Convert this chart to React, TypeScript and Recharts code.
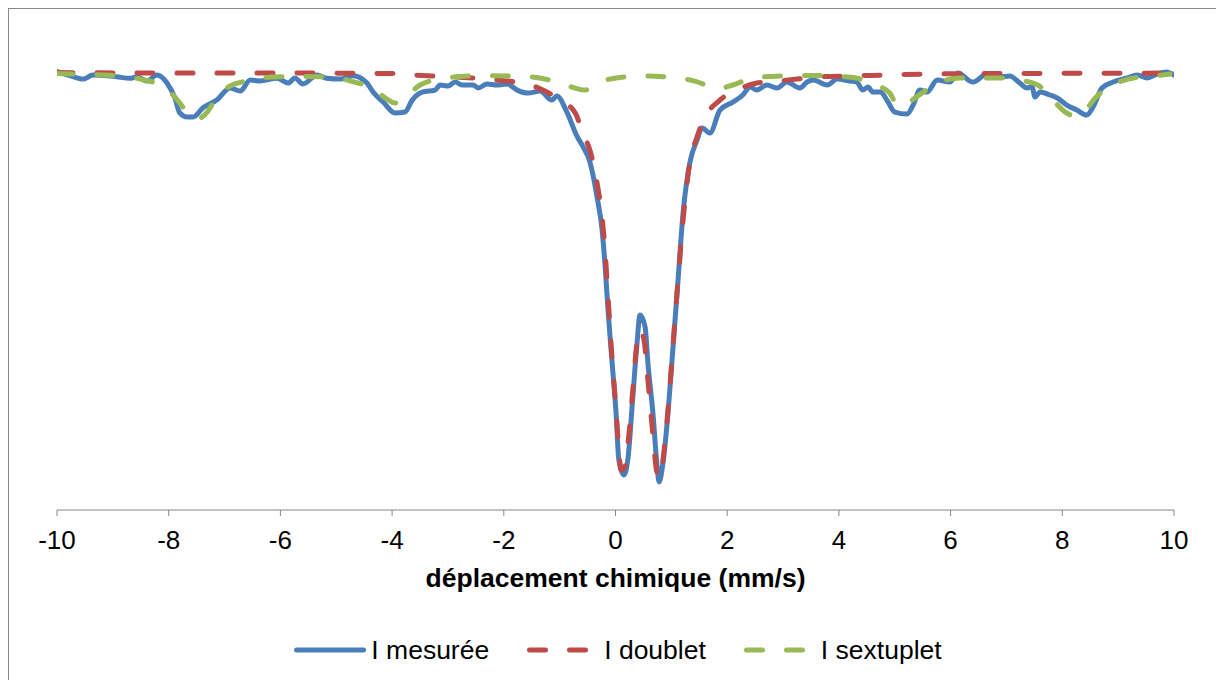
import React from 'react';
import { LineChart, Line, XAxis, YAxis, Legend } from 'recharts';

const FONT = '"Liberation Sans", Arial, Helvetica, sans-serif';

// x axis ticks (mm/s)
const xTicks = [-10, -8, -6, -4, -2, 0, 2, 4, 6, 8, 10];

// I mesurée
const measuredV = [
  -10.0, -9.77, -9.53, -9.36, -9.1, -8.93, -8.69, -8.57, -8.39, -8.21, -8.03, -7.89, -7.8, -7.67, -7.56,
  -7.39, -7.14, -6.9, -6.72, -6.54, -6.37, -6.06, -5.86, -5.74, -5.6, -5.34, -5.17, -4.93, -4.7, -4.45,
  -4.34, -4.16, -3.95, -3.77, -3.64, -3.46, -3.23, -3.14, -3.0, -2.87, -2.75, -2.55, -2.46, -2.3, -2.12,
  -1.94, -1.76, -1.57, -1.35, -1.14, -1.05, -0.87, -0.69, -0.58, -0.46, -0.33, -0.24, -0.19, -0.13, -0.06,
  0.01, 0.06, 0.15, 0.22, 0.31, 0.38, 0.44, 0.53, 0.58, 0.67, 0.74, 0.78, 0.85, 0.94, 1.03,
  1.12, 1.21, 1.33, 1.46, 1.55, 1.69, 1.87, 2.1, 2.28, 2.41, 2.53, 2.71, 2.89, 3.07, 3.3,
  3.43, 3.54, 3.79, 3.97, 4.2, 4.32, 4.43, 4.52, 4.61, 4.74, 4.88, 5.0, 5.22, 5.33, 5.45,
  5.58, 5.76, 5.99, 6.13, 6.4, 6.65, 6.88, 7.06, 7.24, 7.37, 7.46, 7.51, 7.6, 7.78, 7.91,
  8.08, 8.26, 8.44, 8.55, 8.71, 8.91, 9.16, 9.34, 9.52, 9.7, 9.87, 10.0,
];
const measuredI = [
  100.08, 99.84, 99.63, 99.88, 99.84, 99.77, 99.68, 99.77, 99.51, 99.88, 99.39, 98.48, 97.56, 97.32, 97.32,
  97.87, 98.35, 99.09, 98.9, 99.57, 99.51, 99.68, 99.39, 99.7, 99.33, 99.88, 99.68, 99.63, 99.84, 99.39,
  98.84, 98.23, 97.56, 97.62, 98.35, 98.84, 98.96, 99.27, 99.21, 99.45, 99.27, 99.27, 99.09, 99.33, 99.27,
  99.33, 98.96, 98.78, 98.9, 98.35, 98.6, 97.62, 96.15, 95.5, 94.6, 92.44, 90.43, 88.41, 85.37, 82.32,
  79.27, 76.4, 75.49, 76.4, 80.24, 83.29, 85.24, 84.51, 82.32, 79.27, 76.22, 75.06, 76.22, 79.27, 83.29,
  87.38, 91.46, 94.51, 95.91, 96.65, 96.34, 97.74, 98.23, 98.66, 99.15, 98.96, 99.27, 99.09, 99.45, 99.09,
  99.45, 99.57, 99.27, 99.63, 99.51, 99.45, 98.96, 99.15, 98.84, 98.84, 98.23, 97.62, 97.5, 98.05, 98.96,
  98.84, 99.57, 99.45, 100.0, 99.45, 99.94, 99.76, 99.82, 99.39, 99.09, 99.15, 98.54, 98.84, 98.66, 98.48,
  98.05, 97.74, 97.44, 97.93, 99.09, 99.45, 99.7, 99.88, 99.7, 99.94, 100.06, 99.88,
];

// I doublet
const doubletV = [
  -10, -8, -6, -4, -3.6, -3.0, -2.19, -1.5, -1.3, -0.99, -0.72, -0.58, -0.45, -0.33, -0.24, -0.19, -0.13,
  -0.06, 0.01, 0.06, 0.1, 0.16, 0.23, 0.31, 0.38, 0.44, 0.51, 0.58, 0.67, 0.74, 0.8, 0.85, 0.94, 1.03,
  1.12, 1.21, 1.33, 1.46, 1.57, 1.87, 2.17, 2.53, 2.89, 3.25, 3.61, 4.15, 4.86, 5.63, 6.88, 8, 10,
];
const doubletI = [
  100.03, 100, 100, 99.97, 99.88, 99.78, 99.6, 99.25, 98.96, 98.35, 97.56, 96.3, 95.2, 93.29, 91.2, 89.3, 86.16,
  82.5, 79.45, 77.01, 75.79, 75.91, 77.62, 80.67, 83.41, 84.33, 83.72, 81.28, 77.93, 75.67, 75.3, 76.4, 79.45, 83.41,
  87.38, 91.04, 94.51, 96.1, 97.1, 98.35, 98.96, 99.39, 99.51, 99.63, 99.76, 99.82, 99.88, 99.94, 99.97, 99.98, 100,
];

// I sextuplet
const sextupletV = [
  -10, -9.41, -8.87, -8.51, -8.16, -7.89, -7.67, -7.49, -7.31, -7.14, -6.9, -6.51, -6.15, -5.65, -5.06,
  -4.75, -4.36, -4.09, -3.95, -3.8, -3.5, -3.14, -2.78, -2.25, -1.53, -0.99, -0.69, -0.55, -0.33, 0.01,
  0.53, 1.1, 1.42, 1.84, 2.1, 2.46, 2.8, 3.54, 4.25, 4.61, 4.91, 5.06, 5.22, 5.51, 5.81,
  6.17, 6.88, 7.24, 7.56, 7.83, 8.08, 8.23, 8.37, 8.59, 8.89, 9.18, 9.62, 9.93,
];
const sextupletI = [
  99.97, 99.91, 99.82, 99.63, 99.27, 98.54, 97.62, 97.2, 97.62, 98.54, 99.21, 99.57, 99.76, 99.79, 99.76,
  99.51, 99.09, 98.41, 98.17, 98.41, 99.27, 99.63, 99.79, 99.84, 99.77, 99.39, 99.05, 98.96, 99.39, 99.7,
  99.82, 99.7, 99.51, 99.05, 99.27, 99.7, 99.79, 99.85, 99.73, 99.33, 98.78, 98.0, 98.17, 98.84, 99.45,
  99.7, 99.7, 99.57, 99.27, 98.35, 97.56, 97.38, 97.56, 98.48, 99.27, 99.63, 99.82, 99.94,
];

const seriesNames = ['I mesurée', 'I doublet', 'I sextuplet'];
const seriesColors = ['#4A7EBB', '#BE4B48', '#98B954'];
const seriesDash = [undefined, '16 24', '16 24'];

const xTitle = 'déplacement chimique (mm/s)';

const toRows = (xs: number[], ys: number[]) => xs.map((v, i) => ({ v, i: ys[i] }));

const measuredData = toRows(measuredV, measuredI);
const doubletData = toRows(doubletV, doubletI);
const sextupletData = toRows(sextupletV, sextupletI);
const seriesData = [measuredData, doubletData, sextupletData];

const renderLegend = () => (
  <div
    style={{
      display: 'flex',
      justifyContent: 'center',
      alignItems: 'center',
      height: 44,
      paddingLeft: 8,
      fontFamily: FONT,
      fontSize: 26.5,
      color: '#000',
    }}
  >
    {seriesNames.map((name, k) => (
      <div key={name} style={{ display: 'flex', alignItems: 'center', marginLeft: k ? 38 : 0 }}>
        <svg width={72} height={12} style={{ display: 'block' }}>
          <line
            x1={2.5}
            x2={69.5}
            y1={6}
            y2={6}
            stroke={seriesColors[k]}
            strokeWidth={5}
            strokeDasharray={seriesDash[k]}
            strokeLinecap="round"
          />
        </svg>
        <span style={{ marginLeft: 5, whiteSpace: 'nowrap', lineHeight: 1.15 }}>{name}</span>
      </div>
    ))}
  </div>
);

export default function App() {
  return (
    <div style={{ position: 'fixed', left: 0, top: 0, width: 1216, height: 680, overflow: 'hidden', background: '#fff' }}>
      <div
        style={{
          position: 'absolute',
          left: 8,
          top: 8,
          width: 1220,
          height: 700,
          border: '1px solid #898989',
          background: '#fff',
        }}
      >
        <LineChart width={1210} height={672} margin={{ top: 16, right: 45, bottom: 0, left: 48 }}>
          <XAxis
            type="number"
            dataKey="v"
            domain={[-10, 10]}
            ticks={xTicks}
            allowDataOverflow
            interval={0}
            stroke="#868686"
            tickSize={6}
            tickMargin={15}
            height={171}
            tick={{ fontSize: 26, fill: '#000', fontFamily: FONT }}
            label={{
              value: xTitle,
              position: 'insideTop',
              offset: 58,
              fill: '#000',
              fontSize: 26.5,
              fontWeight: 'bold',
              fontFamily: FONT,
            }}
          />
          <YAxis hide width={0} type="number" domain={[73.35, 102.93]} allowDataOverflow />
          <Legend
            layout="vertical"
            align="center"
            verticalAlign="middle"
            wrapperStyle={{ top: 619, left: 0, width: 1210, height: 44 }}
            content={renderLegend}
          />
          {seriesData.map((d, k) => (
            <Line
              key={seriesNames[k]}
              data={d}
              dataKey="i"
              name={seriesNames[k]}
              type="monotone"
              stroke={seriesColors[k]}
              strokeWidth={5}
              strokeDasharray={seriesDash[k]}
              strokeLinecap="round"
              strokeLinejoin="round"
              dot={false}
              activeDot={false}
              isAnimationActive={false}
            />
          ))}
        </LineChart>
      </div>
    </div>
  );
}
